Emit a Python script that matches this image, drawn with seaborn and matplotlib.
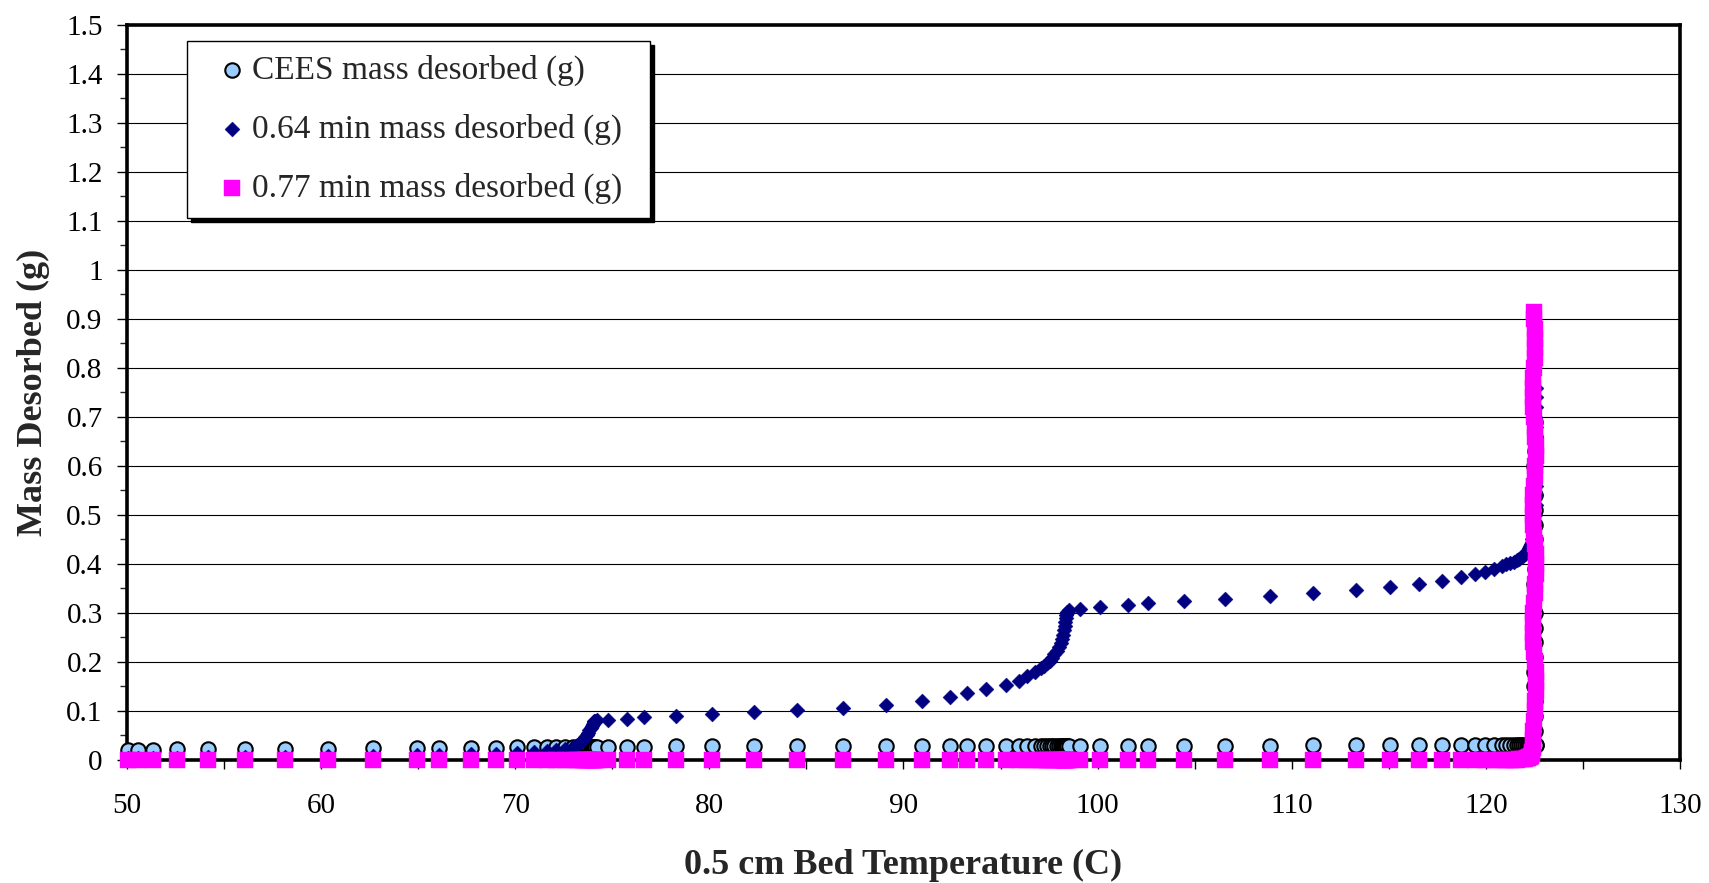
import matplotlib
matplotlib.use("Agg")
import matplotlib.pyplot as plt
import seaborn as sns
import pandas as pd
from matplotlib.ticker import MultipleLocator, FuncFormatter

# ---------------- data ----------------
bed_temp = [
    50.05, 50.55, 51.35, 52.56, 54.19, 56.08, 58.14, 60.37, 62.69, 64.93, 66.09, 67.72, 69.01, 70.08,
    70.99, 71.64, 72.10, 72.56, 73.00, 73.20, 73.38, 73.50, 73.60, 73.68, 73.75, 73.82, 73.88, 73.94,
    73.99, 74.04, 74.08, 74.12, 74.23,
    74.80, 75.78, 76.64, 78.27, 80.12, 82.31, 84.53, 86.88, 89.10, 90.96, 92.40, 93.26, 94.27, 95.26,
    95.94, 96.37, 96.80,
    97.06, 97.25, 97.41, 97.53, 97.66, 97.78, 97.90, 98.00, 98.10, 98.18, 98.24, 98.28, 98.31, 98.33,
    98.35, 98.37, 98.40, 98.45, 98.55,
    99.10, 100.10, 101.56, 102.62, 104.43, 106.57, 108.89, 111.11, 113.29, 115.06, 116.55, 117.72,
    118.70, 119.43, 119.95, 120.41, 120.81, 121.06, 121.27, 121.45, 121.60, 121.72, 121.83, 121.93,
    122.02, 122.10, 122.17, 122.23, 122.28, 122.33, 122.37, 122.40,
]

cees_mass = [
    0.021, 0.021, 0.021, 0.022, 0.022, 0.022, 0.023, 0.023, 0.024, 0.024, 0.025, 0.025, 0.025, 0.026,
    0.026, 0.026, 0.026, 0.026, 0.026, 0.027, 0.027, 0.027, 0.027, 0.027, 0.027, 0.027, 0.027, 0.027,
    0.027, 0.027, 0.027, 0.027, 0.027,
    0.027, 0.027, 0.027, 0.028, 0.028, 0.028, 0.028, 0.028, 0.028, 0.028, 0.028, 0.028, 0.029, 0.029,
    0.029, 0.029, 0.029,
    0.029, 0.029, 0.029, 0.029, 0.029, 0.029, 0.029, 0.029, 0.029, 0.029, 0.029, 0.029, 0.029, 0.029,
    0.029, 0.029, 0.029, 0.029, 0.029,
    0.029, 0.029, 0.029, 0.029, 0.029, 0.029, 0.029, 0.030, 0.030, 0.030, 0.030, 0.030,
    0.030, 0.030, 0.030, 0.030, 0.030, 0.030, 0.030, 0.030, 0.030, 0.030, 0.030, 0.031,
    0.031, 0.031, 0.031, 0.031, 0.031, 0.031, 0.031, 0.031,
]

m064_mass = [
    0.004, 0.004, 0.005, 0.005, 0.006, 0.006, 0.007, 0.008, 0.009, 0.010, 0.011, 0.012, 0.013, 0.014,
    0.016, 0.018, 0.020, 0.023, 0.027, 0.031, 0.036, 0.041, 0.046, 0.051, 0.056, 0.061, 0.066, 0.070,
    0.074, 0.077, 0.079, 0.080, 0.081,
    0.082, 0.084, 0.087, 0.090, 0.093, 0.098, 0.102, 0.107, 0.113, 0.121, 0.129, 0.137, 0.145, 0.154,
    0.162, 0.171, 0.180,
    0.187, 0.192, 0.197, 0.203, 0.209, 0.216, 0.223, 0.230, 0.238, 0.247, 0.256, 0.265, 0.274, 0.282,
    0.289, 0.295, 0.300, 0.303, 0.306,
    0.308, 0.312, 0.316, 0.320, 0.325, 0.329, 0.334, 0.340, 0.346, 0.353, 0.360, 0.366,
    0.373, 0.379, 0.384, 0.390, 0.395, 0.399, 0.402, 0.405, 0.408, 0.411, 0.414, 0.417,
    0.421, 0.425, 0.429, 0.433, 0.437, 0.441, 0.445, 0.450,
]

m077_mass = [
    0.0, 0.0, 0.0, 0.0, 0.0, 0.0, 0.0, 0.0, 0.0, 0.0, 0.0, 0.0, 0.0, 0.0,
    0.0, 0.0, 0.0, 0.0, 0.0, 0.0, 0.0, 0.0, 0.0, 0.0, 0.0, 0.0, 0.0, 0.0,
    0.0, 0.0, 0.0, 0.0, 0.0,
    0.0, 0.0, 0.0, 0.0, 0.0, 0.0, 0.0, 0.0, 0.0, 0.0, 0.0, 0.0, 0.0, 0.0,
    0.0, 0.0, 0.0,
    0.0, 0.0, 0.0, 0.0, 0.0, 0.0, 0.0, 0.0, 0.0, 0.0, 0.0, 0.0, 0.0, 0.0,
    0.0, 0.0, 0.0, 0.0, 0.0,
    0.0, 0.0, 0.0, 0.0, 0.0, 0.0, 0.0, 0.0, 0.0, 0.0, 0.0, 0.0,
    0.0, 0.0, 0.0, 0.0, 0.0, 0.0, 0.0, 0.0, 0.001, 0.002, 0.002, 0.003,
    0.003, 0.004, 0.005, 0.006, 0.007, 0.009, 0.012, 0.016,
]

# final (isothermal) part of each run at about 122.5 C
cees_tail_temp = [122.44, 122.48, 122.52, 122.55, 122.57, 122.58,
                  122.53, 122.52, 122.51, 122.50, 122.50, 122.51, 122.52, 122.52, 122.51, 122.50,
                  122.50, 122.51, 122.52, 122.53, 122.53, 122.52, 122.51, 122.50, 122.50, 122.51,
                  122.52, 122.51]
cees_tail_mass = [0.031, 0.031, 0.031, 0.031, 0.031, 0.031,
                  0.06, 0.09, 0.12, 0.15, 0.18, 0.21, 0.24, 0.27, 0.30, 0.33,
                  0.36, 0.39, 0.42, 0.45, 0.48, 0.51, 0.54, 0.57, 0.60, 0.63,
                  0.66, 0.69]

m064_tail_temp = [122.46, 122.50, 122.54, 122.56, 122.57, 122.56, 122.55, 122.56, 122.57, 122.58,
                  122.57, 122.56, 122.55, 122.56, 122.57, 122.57]
m064_tail_mass = [0.46, 0.48, 0.50, 0.52, 0.54, 0.56, 0.58, 0.60, 0.62, 0.64,
                  0.66, 0.68, 0.70, 0.72, 0.74, 0.76]

m077_tail_temp = [122.41, 122.42, 122.44, 122.47, 122.51, 122.55, 122.58, 122.59, 122.56, 122.52,
                  122.48, 122.44, 122.42, 122.41, 122.43, 122.47, 122.51, 122.55, 122.58, 122.59,
                  122.56, 122.52, 122.48, 122.44, 122.42, 122.41, 122.43, 122.47, 122.51, 122.55,
                  122.57, 122.58, 122.55, 122.51, 122.47, 122.44, 122.42, 122.42, 122.44, 122.48,
                  122.51, 122.54, 122.55, 122.52, 122.49, 122.46]
m077_tail_mass = [0.025, 0.04, 0.06, 0.08, 0.10, 0.12, 0.14, 0.16, 0.18, 0.20,
                  0.22, 0.24, 0.26, 0.28, 0.30, 0.32, 0.34, 0.36, 0.38, 0.40,
                  0.42, 0.44, 0.46, 0.48, 0.50, 0.52, 0.54, 0.56, 0.58, 0.60,
                  0.62, 0.64, 0.66, 0.68, 0.70, 0.72, 0.74, 0.76, 0.78, 0.80,
                  0.82, 0.84, 0.86, 0.88, 0.90, 0.915]

series_labels = ["CEES mass desorbed (g)", "0.64 min mass desorbed (g)", "0.77 min mass desorbed (g)"]
x_label = "0.5 cm Bed Temperature (C)"
y_label = "Mass Desorbed (g)"

# ---------------- style ----------------
sns.set_style("ticks")
plt.rcParams["font.family"] = ["Liberation Serif", "DejaVu Serif"]

fig = plt.figure(figsize=(17.09, 8.83), dpi=100)
ax = fig.add_axes([0.0743, 0.1393, 0.9087, 0.8324])

cees_df = pd.DataFrame({"temp": bed_temp + cees_tail_temp, "mass": cees_mass + cees_tail_mass})
m064_df = pd.DataFrame({"temp": bed_temp + m064_tail_temp, "mass": m064_mass + m064_tail_mass})
m077_df = pd.DataFrame({"temp": bed_temp + m077_tail_temp, "mass": m077_mass + m077_tail_mass})

sns.scatterplot(data=cees_df, x="temp", y="mass", ax=ax, marker="o", s=108,
                color="#99CCFF", edgecolor="black", linewidth=1.5,
                label=series_labels[0], zorder=3, clip_on=False)
sns.scatterplot(data=m064_df, x="temp", y="mass", ax=ax, marker="D", s=58,
                color="#000080", edgecolor="#000080", linewidth=0.3,
                label=series_labels[1], zorder=4, clip_on=False)
sns.scatterplot(data=m077_df, x="temp", y="mass", ax=ax, marker="s", s=118,
                color="#FF00FF", edgecolor="#FF00FF", linewidth=0.3,
                label=series_labels[2], zorder=5, clip_on=False)

ax.set_xlim(50, 130)
ax.set_ylim(0, 1.5)
ax.xaxis.set_major_locator(MultipleLocator(10))
ax.xaxis.set_minor_locator(MultipleLocator(5))
ax.yaxis.set_major_locator(MultipleLocator(0.1))
ax.yaxis.set_minor_locator(MultipleLocator(0.05))
ax.yaxis.set_major_formatter(FuncFormatter(lambda v, p: f"{round(v, 2):g}"))

ax.yaxis.grid(True, which="major", color="black", linewidth=0.8)
ax.xaxis.grid(False)
ax.set_axisbelow(True)

for sp in ax.spines.values():
    sp.set_visible(True)
    sp.set_color("black")
    sp.set_linewidth(2.6)
    sp.set_zorder(2.5)

ax.tick_params(axis="x", which="both", direction="out", length=6.5, width=1, pad=17,
               labelsize=21, colors="black")
ax.tick_params(axis="y", which="major", direction="out", length=7, width=1, pad=10.5,
               labelsize=21, colors="black")
ax.tick_params(axis="y", which="minor", direction="out", length=5, width=1)

ax.set_xlabel(x_label, fontsize=26, fontweight="bold", labelpad=22)
ax.set_ylabel(y_label, fontsize=26, fontweight="bold", labelpad=12)

leg = ax.legend(loc="upper left", bbox_to_anchor=(0.0385, 0.5, 0.2985, 0.478), mode="expand",
                borderaxespad=0, frameon=True, fancybox=False, framealpha=1, edgecolor="black",
                shadow={"ox": 3, "oy": -3, "color": "black", "alpha": 1},
                fontsize=24, borderpad=0.42, handlelength=1.89, handletextpad=-0.36,
                labelspacing=0.82, scatterpoints=1)
leg.get_frame().set_linewidth(1.0)
leg.set_zorder(10)

fig.savefig("out.png", dpi=100, facecolor="white")
